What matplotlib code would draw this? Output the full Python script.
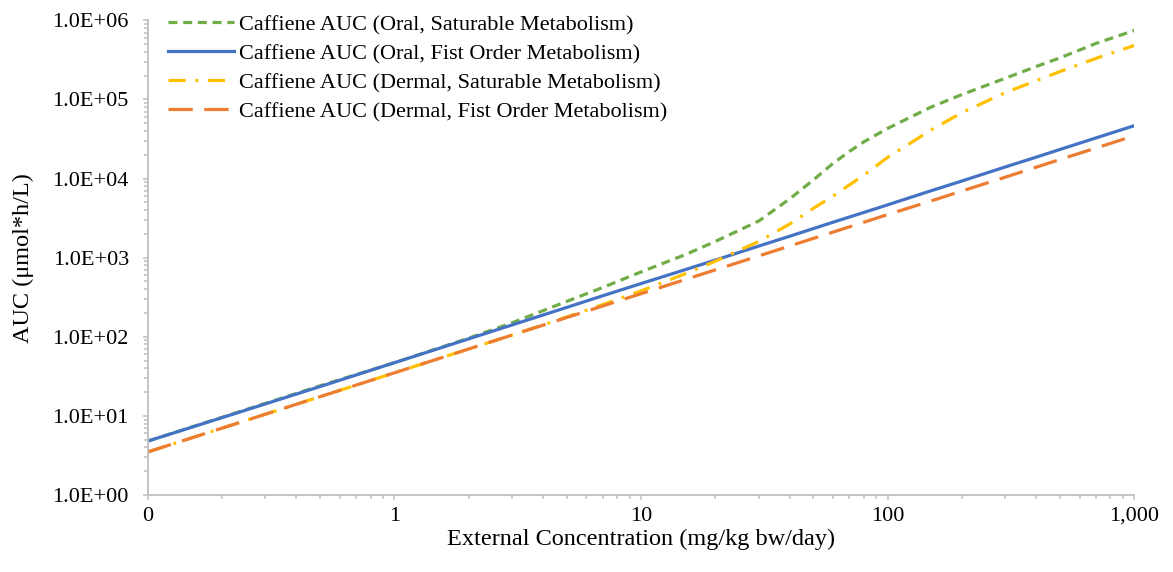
import matplotlib as mpl
mpl.use('Agg')
import matplotlib.pyplot as plt
from matplotlib.ticker import FuncFormatter, LogLocator, NullFormatter

plt.rcParams['font.family'] = ['Liberation Serif', 'DejaVu Serif']

# external concentration (mg/kg bw/day)
dose = [0.1, 0.2, 0.5, 1, 2, 3, 5, 7, 10, 15, 20, 30, 40, 50, 60, 70, 80,
        100, 150, 200, 300, 400, 500, 700, 1000]

# AUC (umol*h/L)
oral_sat = [4.8, 9.6, 24, 47, 96, 150, 280, 420, 660, 1080, 1600, 2900, 5500,
            9600, 15500, 22000, 29000, 43000, 80000, 115000, 185000, 260000,
            335000, 510000, 742000]
oral_fo = [4.8, 9.5, 23.5, 47, 94, 141, 235, 330, 470, 700, 930, 1400, 1860,
           2330, 2800, 3260, 3720, 4650, 7000, 9300, 14000, 18600, 23300,
           32600, 46500]
derm_sat = [3.5, 7, 17.5, 35, 70, 105, 178, 255, 380, 620, 900, 1600, 2650,
            4200, 6000, 8300, 11000, 18500, 41000, 68000, 122000, 172000,
            225000, 330000, 480000]
derm_fo = [3.5, 7, 17.5, 35, 70, 105, 175, 245, 350, 525, 700, 1050, 1400,
           1750, 2100, 2450, 2800, 3500, 5200, 6950, 10400, 13900, 17400,
           24300, 34700]

labels = ['Caffiene AUC (Oral, Saturable Metabolism)',
          'Caffiene AUC (Oral, Fist Order Metabolism)',
          'Caffiene AUC (Dermal, Saturable Metabolism)',
          'Caffiene AUC (Dermal, Fist Order Metabolism)']

x_ticks = [0.1, 1, 10, 100, 1000]
x_tick_labels = ['0', '1', '10', '100', '1,000']

fig = plt.figure(figsize=(11.73, 5.72), dpi=100)
ax = fig.add_axes([0.126, 0.1346, 0.841, 0.83])

lw = 2.3
ax.plot(dose, oral_sat, color='#70AD47', lw=lw, dashes=(2.8, 1.8), label=labels[0])
ax.plot(dose, oral_fo, color='#4472C4', lw=lw, label=labels[1])
ax.plot(dose, derm_sat, color='#FFC000', lw=lw, dashes=(5.4, 3, 0.9, 3), label=labels[2])
ax.plot(dose, derm_fo, color='#ED7D31', lw=lw, dashes=(7.6, 3.6), label=labels[3])

ax.set_xscale('log')
ax.set_yscale('log')
ax.set_xlim(0.1, 1000)
ax.set_ylim(1, 1e6)

ax.set_xticks(x_ticks)
ax.set_xticklabels(x_tick_labels)
ax.xaxis.set_minor_locator(LogLocator(base=10, subs=range(2, 10)))
ax.xaxis.set_minor_formatter(NullFormatter())
ax.yaxis.set_major_locator(LogLocator(base=10, numticks=10))
ax.yaxis.set_minor_locator(LogLocator(base=10, subs=range(2, 10), numticks=10))
ax.yaxis.set_minor_formatter(NullFormatter())
ax.yaxis.set_major_formatter(FuncFormatter(lambda v, p: '{:.1E}'.format(v)))

for s in ['top', 'right']:
    ax.spines[s].set_visible(False)
for s in ['left', 'bottom']:
    ax.spines[s].set_color('#BFBFBF')
    ax.spines[s].set_linewidth(1.3)

ax.tick_params(which='both', colors='#BFBFBF', labelcolor='black', width=1.1)
ax.tick_params(which='major', length=3.6, labelsize=16)
ax.tick_params(which='minor', length=3)
ax.tick_params(axis='x', which='major', pad=5)
ax.tick_params(axis='y', which='major', pad=10)

ax.set_xlabel('External Concentration (mg/kg bw/day)', fontsize=17.5, labelpad=2)
ax.set_ylabel('AUC (\u03bcmol*h/L)', fontsize=17.5, labelpad=13)

ax.legend(loc='upper left', bbox_to_anchor=(0.02, 1.012), frameon=False,
          fontsize=16, handlelength=3.0, handletextpad=0.2, labelspacing=0.38,
          borderpad=0, borderaxespad=0)

plt.savefig('out.png', dpi=100)
plt.close()
